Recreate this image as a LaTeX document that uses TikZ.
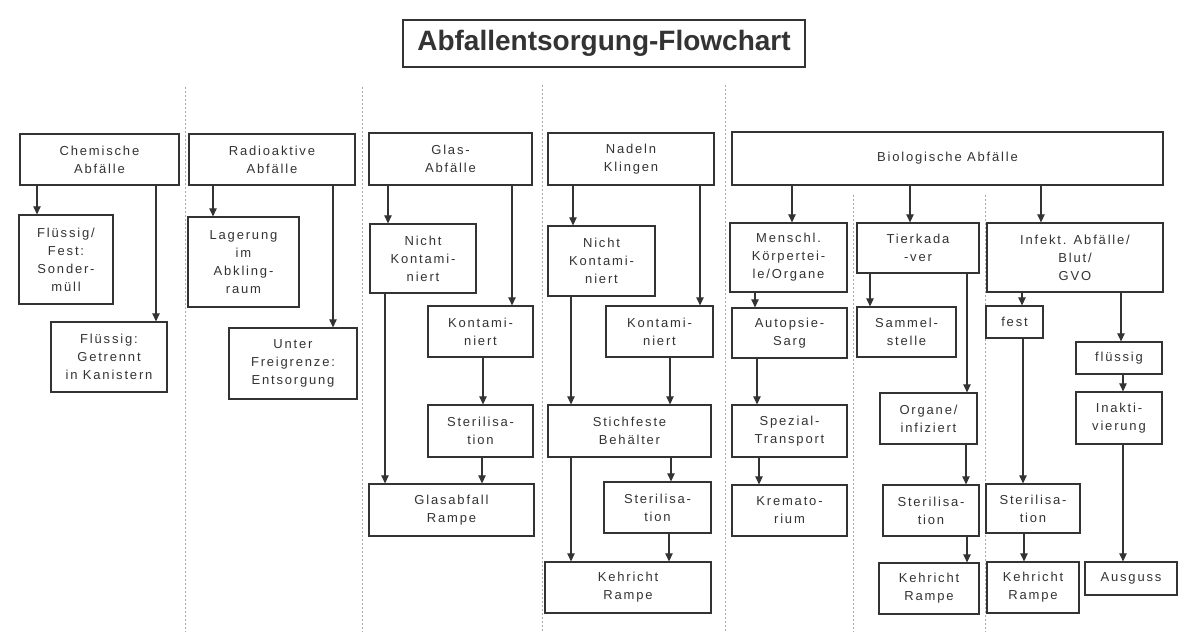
\documentclass[tikz,border=0pt]{standalone}
\usepackage{fontspec}
\setmainfont{Liberation Sans}
\newfontfamily\boxfont[LetterSpace=14]{Liberation Sans}
\usetikzlibrary{arrows.meta}
\definecolor{ink}{HTML}{333333}
\definecolor{sepcol}{HTML}{A8A8A8}
\newcommand\bx[6]{\node[box,minimum width={(#4-#2)*1pt},minimum height={(#5-#3)*1pt}] (#1) at ({(#2+#4)/2},{(#3+#5)/2}) {#6};}
\begin{document}
\begin{tikzpicture}[x=1pt,y=-1pt,
  box/.style={draw=ink,line width=1.3pt,inner sep=0pt,align=center,text=ink,font={\boxfont\fontsize{13}{18}\selectfont}},
  arr/.style={draw=ink,line width=1.1pt,-{Triangle[length=8pt,width=7.5pt]}},
  sepline/.style={draw=sepcol,line width=0.8pt,dash pattern=on 2pt off 2pt}]
\useasboundingbox[fill=white] (0,0) rectangle (1181,635);

% separators
\draw[sepline] (185,87) -- (185,632);
\draw[sepline] (362,87) -- (362,632);
\draw[sepline] (542,85) -- (542,632);
\draw[sepline] (725,85) -- (725,632);
\draw[sepline] (853,195) -- (853,632);
\draw[sepline] (985,195) -- (985,632);

% title
\node[draw=ink,line width=1.3pt,minimum width=402pt,minimum height=47pt,inner sep=0pt,
      font={\bfseries\fontsize{28}{32}\selectfont},text=ink] (title) at (604,43.5) {Abfallentsorgung-Flowchart};

% Chemische
\bx{ch}{20}{134}{179}{185}{Chemische\\Abfälle}
\bx{ch1}{19}{215}{113}{304}{Flüssig/\\Fest:\\Sonder-\\müll}
\bx{ch2}{51}{322}{167}{392}{Flüssig:\\Getrennt\\in Kanistern}
\draw[arr] (ch.south -| 37,0) -- (ch1.north -| 37,0);
\draw[arr] (ch.south -| 156,0) -- (ch2.north -| 156,0);

% Radioaktive
\bx{ra}{189}{134}{355}{185}{Radioaktive\\Abfälle}
\bx{ra1}{188}{217}{299}{307}{Lagerung\\im\\Abkling-\\raum}
\bx{ra2}{229}{328}{357}{399}{Unter\\Freigrenze:\\Entsorgung}
\draw[arr] (ra.south -| 213,0) -- (ra1.north -| 213,0);
\draw[arr] (ra.south -| 333,0) -- (ra2.north -| 333,0);

% Glas
\bx{gl}{369}{133}{532}{185}{Glas-\\Abfälle}
\bx{gl1}{370}{224}{476}{293}{Nicht\\Kontami-\\niert}
\bx{gl2}{428}{306}{533}{357}{Kontami-\\niert}
\bx{gl3}{428}{405}{533}{457}{Sterilisa-\\tion}
\bx{gl4}{369}{484}{534}{536}{Glasabfall\\Rampe}
\draw[arr] (gl.south -| 388,0) -- (gl1.north -| 388,0);
\draw[arr] (gl.south -| 512,0) -- (gl2.north -| 512,0);
\draw[arr] (gl2.south -| 483,0) -- (gl3.north -| 483,0);
\draw[arr] (gl3.south -| 482,0) -- (gl4.north -| 482,0);
\draw[arr] (gl1.south -| 385,0) -- (gl4.north -| 385,0);

% Nadeln
\bx{na}{548}{133}{714}{185}{Nadeln\\Klingen}
\bx{na1}{548}{226}{655}{296}{Nicht\\Kontami-\\niert}
\bx{na2}{606}{306}{713}{357}{Kontami-\\niert}
\bx{na3}{548}{405}{711}{457}{Stichfeste\\Behälter}
\bx{na4}{604}{482}{711}{533}{Sterilisa-\\tion}
\bx{na5}{545}{562}{711}{613}{Kehricht\\Rampe}
\draw[arr] (na.south -| 573,0) -- (na1.north -| 573,0);
\draw[arr] (na.south -| 700,0) -- (na2.north -| 700,0);
\draw[arr] (na2.south -| 670,0) -- (na3.north -| 670,0);
\draw[arr] (na1.south -| 571,0) -- (na3.north -| 571,0);
\draw[arr] (na3.south -| 671,0) -- (na4.north -| 671,0);
\draw[arr] (na3.south -| 571,0) -- (na5.north -| 571,0);
\draw[arr] (na4.south -| 669,0) -- (na5.north -| 669,0);

% Biologische
\bx{bi}{732}{132}{1163}{185}{Biologische Abfälle}
\bx{me}{730}{223}{847}{292}{Menschl.\\Körpertei-\\le/Organe}
\bx{ti}{857}{223}{979}{273}{Tierkada\\-ver}
\bx{in}{987}{223}{1163}{292}{Infekt. Abfälle/\\Blut/\\GVO}
\draw[arr] (bi.south -| 792,0) -- (me.north -| 792,0);
\draw[arr] (bi.south -| 910,0) -- (ti.north -| 910,0);
\draw[arr] (bi.south -| 1041,0) -- (in.north -| 1041,0);

\bx{me1}{732}{308}{847}{358}{Autopsie-\\Sarg}
\bx{me2}{732}{405}{847}{457}{Spezial-\\Transport}
\bx{me3}{732}{485}{847}{536}{Kremato-\\rium}
\draw[arr] (me.south -| 755,0) -- (me1.north -| 755,0);
\draw[arr] (me1.south -| 757,0) -- (me2.north -| 757,0);
\draw[arr] (me2.south -| 759,0) -- (me3.north -| 759,0);

\bx{ti1}{857}{307}{956}{357}{Sammel-\\stelle}
\bx{ti2}{880}{393}{977}{444}{Organe/\\infiziert}
\bx{ti3}{883}{485}{979}{536}{Sterilisa-\\tion}
\bx{ti4}{879}{563}{979}{614}{Kehricht\\Rampe}
\draw[arr] (ti.south -| 870,0) -- (ti1.north -| 870,0);
\draw[arr] (ti.south -| 967,0) -- (ti2.north -| 967,0);
\draw[arr] (ti2.south -| 966,0) -- (ti3.north -| 966,0);
\draw[arr] (ti3.south -| 967,0) -- (ti4.north -| 967,0);

\bx{in1}{986}{306}{1043}{338}{fest}
\bx{in2}{986}{484}{1080}{533}{Sterilisa-\\tion}
\bx{in3}{987}{562}{1079}{613}{Kehricht\\Rampe}
\bx{in4}{1076}{342}{1162}{374}{flüssig}
\bx{in5}{1076}{392}{1162}{444}{Inakti-\\vierung}
\bx{in6}{1085}{562}{1177}{595}{Ausguss}
\draw[arr] (in.south -| 1022,0) -- (in1.north -| 1022,0);
\draw[arr] (in1.south -| 1023,0) -- (in2.north -| 1023,0);
\draw[arr] (in2.south -| 1024,0) -- (in3.north -| 1024,0);
\draw[arr] (in.south -| 1121,0) -- (in4.north -| 1121,0);
\draw[arr] (in4.south -| 1123,0) -- (in5.north -| 1123,0);
\draw[arr] (in5.south -| 1123,0) -- (in6.north -| 1123,0);
\end{tikzpicture}
\end{document}
